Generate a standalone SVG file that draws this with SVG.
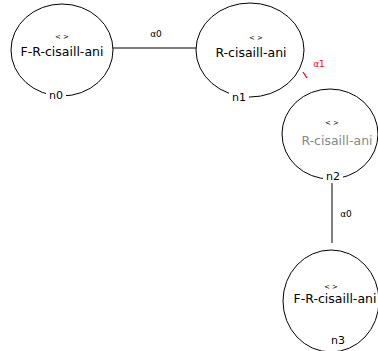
<svg xmlns="http://www.w3.org/2000/svg" width="378" height="351" viewBox="0 0 378 351">
<style>
.c{fill:#fff;stroke:#000;stroke-width:1}
.t{font-family:"DejaVu Sans",sans-serif;font-size:12.5px;text-anchor:middle}
.s{font-family:"DejaVu Sans",sans-serif;font-size:7px;text-anchor:middle}
.l{font-family:"DejaVu Sans",sans-serif;font-size:11px;text-anchor:middle}
.e{stroke:#000;stroke-width:1;fill:none}
.el{font-family:"DejaVu Sans",sans-serif;font-size:9px;text-anchor:middle}
</style>
<g id="edges">
<line class="e" x1="112" y1="48" x2="197" y2="48"/>
<text class="el" x="156" y="37">α0</text>
<line x1="303" y1="72" x2="307" y2="78" stroke="#f00" stroke-width="1.3"/>
<text class="el" x="319" y="67" fill="#f00">α1</text>
<line class="e" x1="332" y1="183" x2="332" y2="243"/>
<text class="el" x="346" y="217">α0</text>
</g>
<g id="n0">
<ellipse class="c" cx="62" cy="50" rx="51" ry="46"/>
<text class="s" x="62" y="39">&lt; &gt;</text>
<text class="t" x="62" y="56">F-R-cisaill-ani</text>
<rect x="46" y="89" width="20" height="12" fill="#fff"/>
<text class="l" x="56" y="99">n0</text>
</g>
<g id="n1">
<ellipse class="c" cx="250" cy="50" rx="54" ry="47"/>
<text class="s" x="256" y="40">&lt; &gt;</text>
<text class="t" x="251" y="57">R-cisaill-ani</text>
<rect x="229" y="91" width="20" height="12" fill="#fff"/>
<text class="l" x="239" y="101">n1</text>
</g>
<g id="n2">
<ellipse class="c" cx="330" cy="134" rx="48" ry="45"/>
<text class="s" x="332" y="125">&lt; &gt;</text>
<text class="t" x="337" y="145" fill="#888">R-cisaill-ani</text>
<rect x="323" y="170" width="20" height="12" fill="#fff"/>
<text class="l" x="333" y="180">n2</text>
</g>
<g id="n3">
<ellipse class="c" cx="331" cy="301" rx="48" ry="51"/>
<text class="s" x="331" y="289">&lt; &gt;</text>
<text class="t" x="335" y="303">F-R-cisaill-ani</text>
<rect x="328" y="333" width="20" height="12" fill="#fff"/>
<text class="l" x="338" y="344">n3</text>
</g>
</svg>
